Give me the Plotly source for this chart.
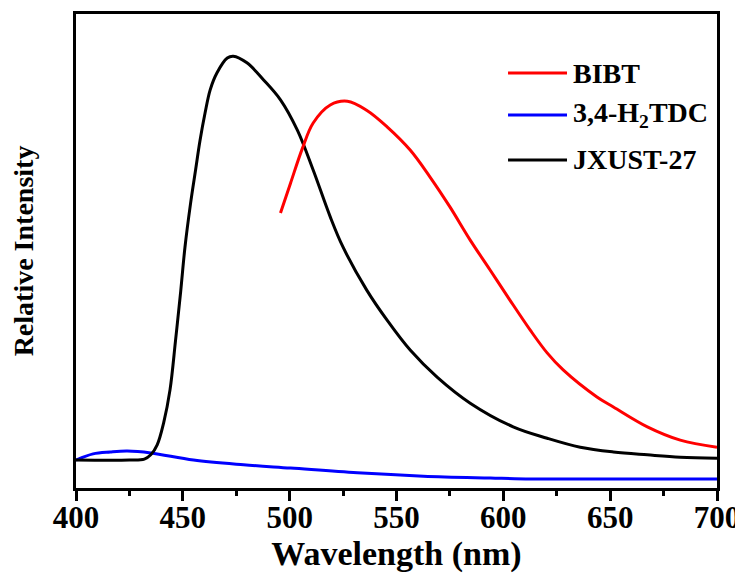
import plotly.graph_objects as go

# JXUST-27 (black)
jx_wl = [400, 425, 432, 435, 438, 441, 444, 446.6, 449, 451, 453.6, 456, 458, 460.4, 462.8,
         466, 470.8, 473.6, 480, 487.8, 495.7, 503.6, 511, 519, 525, 536, 545.6, 556.4, 569,
         584.5, 604.6, 620.5, 636, 651.5, 667.4, 682.8, 700]
jx_int = [5.9, 5.9, 6.1, 7.0, 9.1, 13.7, 20.7, 31.2, 41.5, 50.8, 60.0, 67.2, 73.2, 79.1, 84.0,
          87.6, 90.7, 91.1, 89.7, 86.1, 81.9, 75.5, 67.1, 57.2, 50.8, 41.8, 35.4, 29.1, 23.4,
          17.9, 12.9, 10.5, 8.6, 7.6, 7.0, 6.5, 6.3]

# BIBT (red)
bibt_wl = [495.7, 500.4, 506, 511, 519, 527, 536, 545.6, 556.4, 565.7, 575, 584.5, 593.8,
           603, 612.6, 620.5, 628, 643.8, 651.5, 667.4, 682.8, 700]
bibt_int = [58.0, 64.3, 71.7, 77.0, 80.8, 81.6, 79.7, 76.2, 71.3, 65.6, 59.3, 52.3, 46.0,
            39.7, 33.3, 28.5, 24.9, 19.2, 17.1, 12.9, 10.1, 8.6]

# 3,4-H2TDC (blue)
tdc_wl = [400, 408, 416, 424, 435, 455, 478.4, 500.4, 531.7, 562.6, 594, 612.5, 630, 700]
tdc_int = [5.9, 7.2, 7.6, 7.8, 7.4, 5.9, 4.9, 4.2, 3.2, 2.5, 2.1, 1.9, 1.9, 1.9]

x_ticks = [400, 450, 500, 550, 600, 650, 700]
legend_names = ["BIBT", "3,4-H<sub>2</sub>TDC", "JXUST-27"]
legend_colors = ["#ff0000", "#0000ff", "#000000"]

FONT = "Liberation Serif, Times New Roman, serif"

fig = go.Figure()
fig.add_trace(go.Scatter(x=tdc_wl, y=tdc_int, mode="lines", name="3,4-H2TDC",
                         line=dict(color="#0000ff", width=3, shape="spline", smoothing=1.0)))
fig.add_trace(go.Scatter(x=jx_wl, y=jx_int, mode="lines", name="JXUST-27",
                         line=dict(color="#000000", width=3, shape="spline", smoothing=1.0)))
fig.add_trace(go.Scatter(x=bibt_wl, y=bibt_int, mode="lines", name="BIBT",
                         line=dict(color="#ff0000", width=3, shape="spline", smoothing=1.0)))

# Manual legend (line samples + labels)
leg_y = [0.8755, 0.787, 0.692]
for name, col, yy in zip(legend_names, legend_colors, leg_y):
    fig.add_shape(type="line", xref="paper", yref="paper",
                  x0=0.674, x1=0.766, y0=yy, y1=yy,
                  line=dict(color=col, width=3))
    fig.add_annotation(xref="paper", yref="paper", x=0.772, y=yy, text=name,
                       showarrow=False, xanchor="left", yanchor="middle",
                       font=dict(family=FONT, size=28, color="black", weight="bold"))

fig.update_layout(
    width=743, height=574,
    margin=dict(l=68, r=34, t=6, b=94, autoexpand=False),
    paper_bgcolor="white", plot_bgcolor="white",
    showlegend=False,
    font=dict(family=FONT, size=28, color="black", weight="bold"),
)
fig.update_xaxes(
    range=[400, 700], tickvals=x_ticks, ticktext=[str(t) for t in x_ticks],
    ticks="outside", ticklen=10, tickwidth=2.5, tickcolor="black",
    minor=dict(dtick=25, tick0=400, ticks="outside", ticklen=5, tickwidth=2.5, tickcolor="black"),
    showline=True, linewidth=3, linecolor="black", mirror=True,
    showgrid=False, zeroline=False, automargin=False,
    tickfont=dict(family=FONT, size=31, weight="bold"),
    ticklabelstandoff=-10,
    title=dict(text="Wavelength (nm)", font=dict(family=FONT, size=34, weight="bold"), standoff=0),
)
fig.update_yaxes(
    range=[0, 100], showticklabels=False, ticks="",
    showline=True, linewidth=3, linecolor="black", mirror=True,
    showgrid=False, zeroline=False, automargin=False,
    title=dict(text="Relative Intensity", font=dict(family=FONT, size=28, weight="bold"), standoff=32),
)

fig.write_html("out.html")
